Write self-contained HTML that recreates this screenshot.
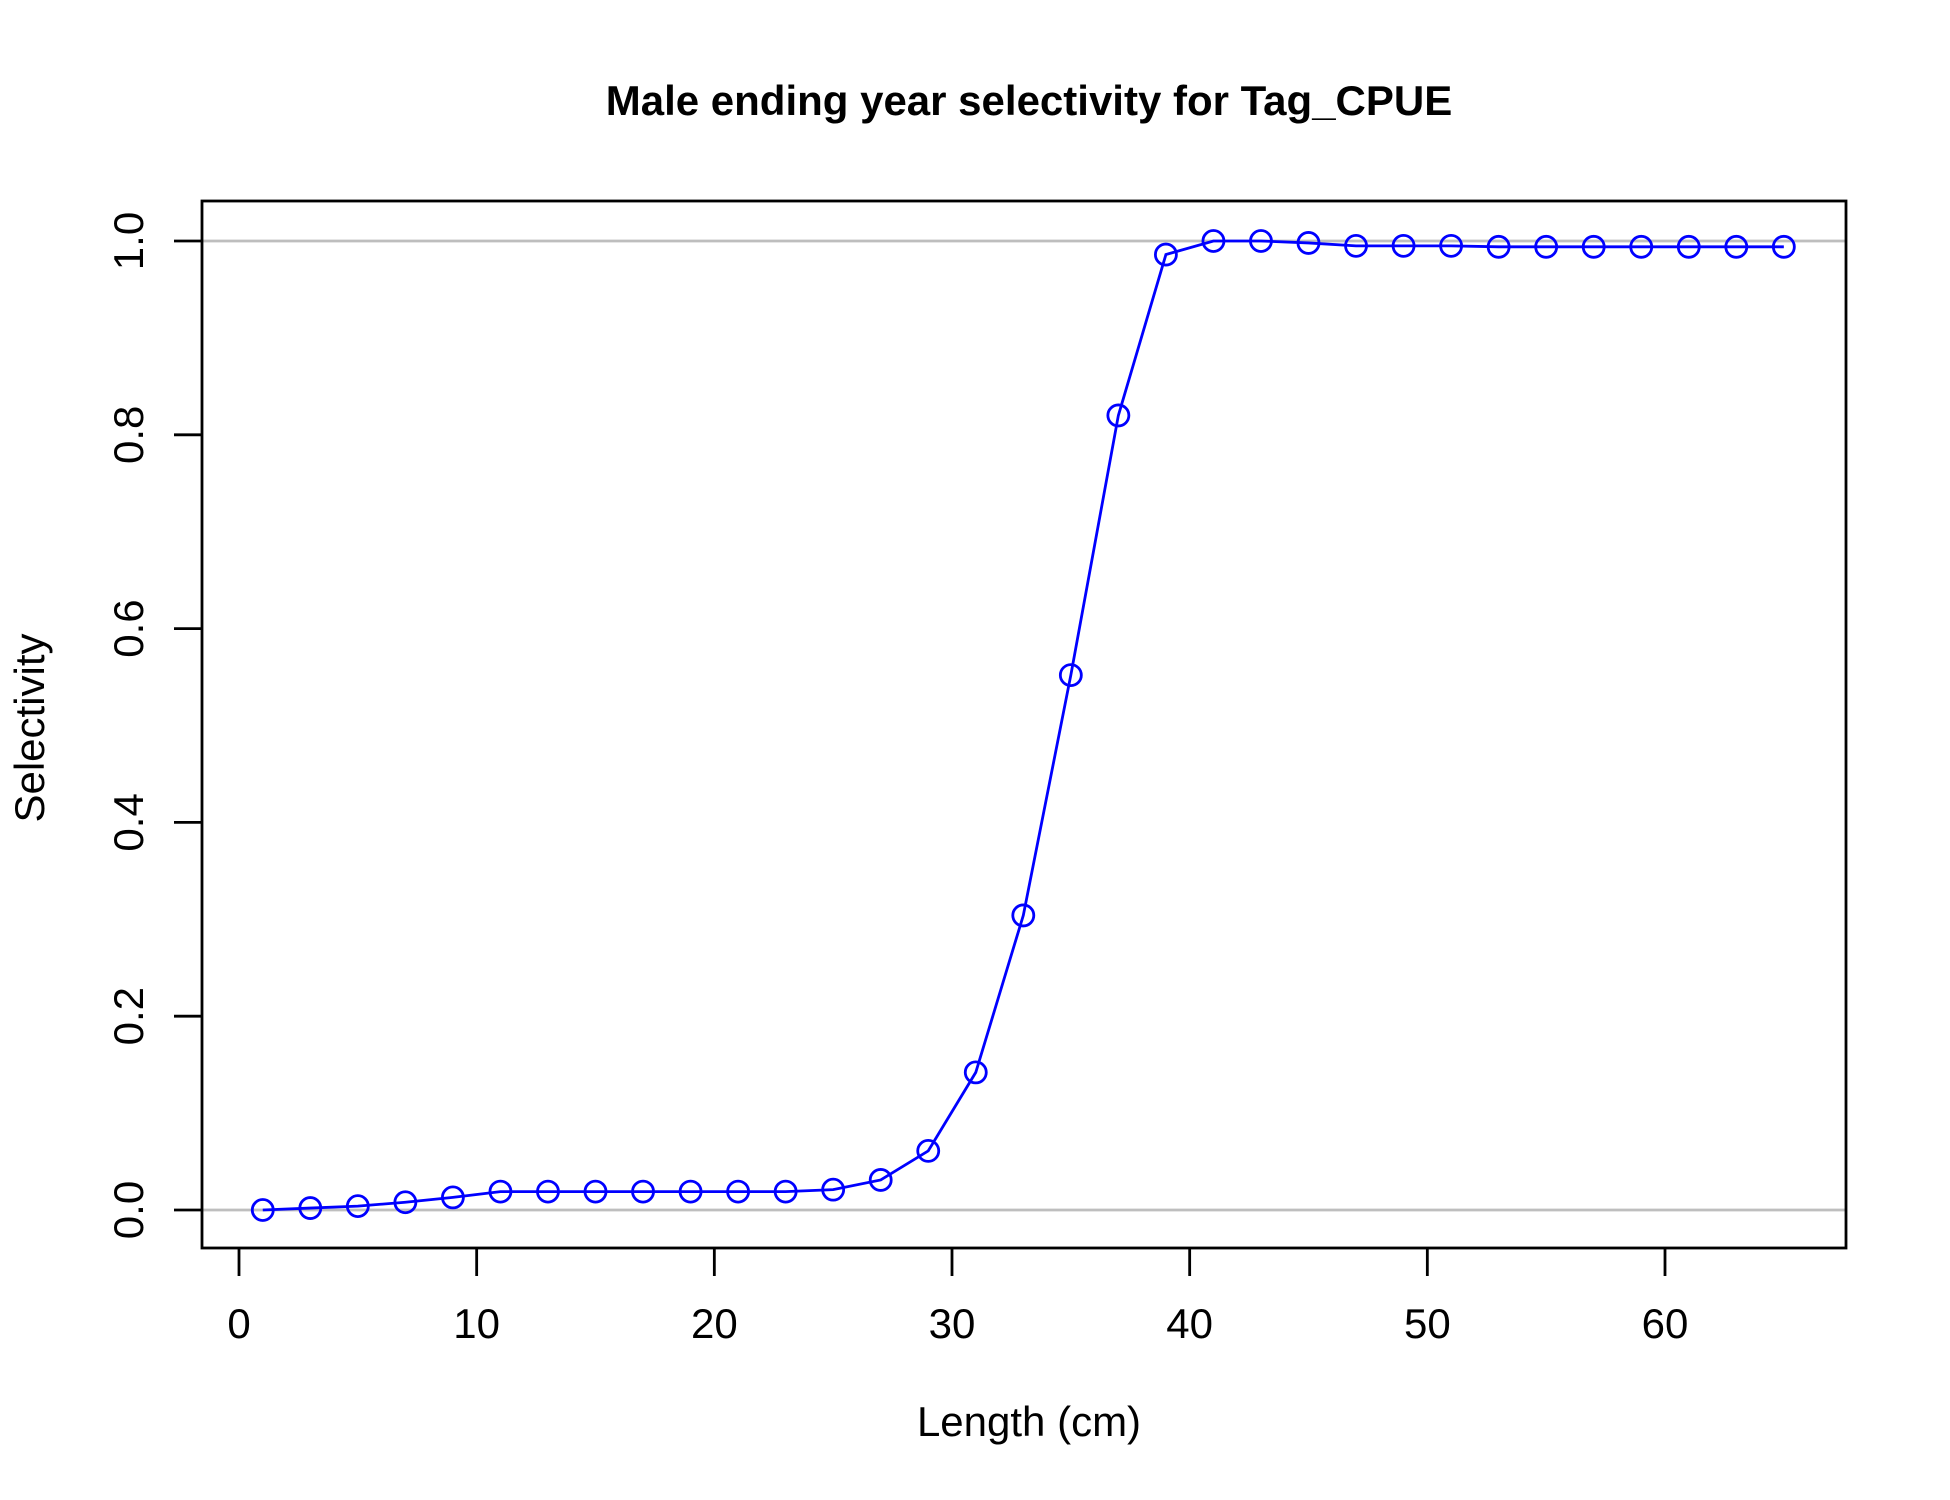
<!DOCTYPE html>
<html><head><meta charset="utf-8"><style>body{margin:0;background:#fff}svg{display:block}</style></head>
<body>
<svg id="chart" width="1950" height="1500" viewBox="0 0 1950 1500" font-family="Liberation Sans, Arial, sans-serif">
<rect width="1950" height="1500" fill="#fff"/>
<text x="1029" y="115" font-size="42" font-weight="bold" text-anchor="middle">Male ending year selectivity for Tag_CPUE</text>
<text x="1029" y="1436" font-size="42" text-anchor="middle">Length (cm)</text>
<text transform="translate(44,728) rotate(-90)" font-size="42" text-anchor="middle">Selectivity</text>
<g id="grid"></g><g id="axes"></g><g id="series"></g>
<rect x="202" y="201" width="1644" height="1047" fill="none" stroke="#000" stroke-width="2.8"/>
</svg>
<script>
const xs=[1,3,5,7,9,11,13,15,17,19,21,23,25,27,29,31,33,35,37,39,41,43,45,47,49,51,53,55,57,59,61,63,65];
const sel=[0.0,0.002,0.004,0.008,0.013,0.019,0.019,0.019,0.019,0.019,0.019,0.019,0.021,0.031,0.061,0.142,0.304,0.552,0.82,0.986,1.0,1.0,0.998,0.995,0.995,0.995,0.994,0.994,0.994,0.994,0.994,0.994,0.994];
const xTicks=[0,10,20,30,40,50,60];
const yTicks=[0.0,0.2,0.4,0.6,0.8,1.0];
const refLines=[0,1];
const NS='http://www.w3.org/2000/svg';
const X=v=>239+v*(1665-239)/60;
const Y=v=>1210-v*(1210-241);
function mk(t,a,p){const e=document.createElementNS(NS,t);for(const k in a)e.setAttribute(k,a[k]);p.appendChild(e);return e;}
const grid=document.getElementById('grid'),axes=document.getElementById('axes'),ser=document.getElementById('series');
refLines.forEach(v=>{const l=mk('line',{x1:202,x2:1846,y1:Y(v),y2:Y(v),stroke:'#bebebe','stroke-width':2.8},grid);

});
xTicks.forEach(v=>{const l=mk('line',{x1:X(v),x2:X(v),y1:1248,y2:1276,stroke:'#000','stroke-width':2.8},axes);


const t=mk('text',{x:X(v),y:1338,'font-size':42,'text-anchor':'middle'},axes);t.textContent=String(v);

});
yTicks.forEach(v=>{const l=mk('line',{x1:174,x2:202,y1:Y(v),y2:Y(v),stroke:'#000','stroke-width':2.8},axes);


const t=mk('text',{transform:`translate(143,${Y(v)}) rotate(-90)`,'font-size':42,'text-anchor':'middle'},axes);t.textContent=v.toFixed(1);

});
const line=mk('polyline',{points:xs.map((x,i)=>X(x)+','+Y(sel[i])).join(' '),fill:'none',stroke:'#0000ff','stroke-width':2.8},ser);


xs.forEach((x,i)=>{const c=mk('circle',{cx:X(x),cy:Y(sel[i]),r:10.5,fill:'none',stroke:'#0000ff','stroke-width':2.8},ser);

});
</script>
</body></html>
